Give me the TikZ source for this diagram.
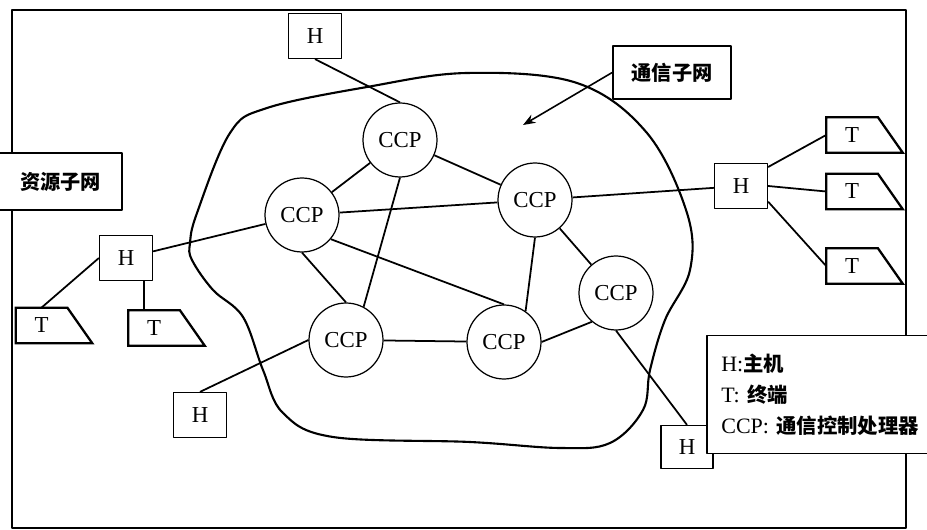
\documentclass[tikz,border=0pt]{standalone}
\usepackage{fontspec}
\setmainfont{Liberation Serif}
\newfontfamily\cjk{Noto Sans CJK SC}
\usetikzlibrary{arrows.meta}
\tikzset{net/.style={line join=round,>=Stealth,x=0.02cm,y=-0.02cm,font=\fontsize{13}{15}\selectfont},
  ccp/.style={circle,draw,line width=0.7pt,fill=white,minimum size=1.48cm,inner sep=0pt},
  hostbox/.style={draw,line width=0.7pt,fill=white,minimum width=1.06cm,minimum height=0.9cm,inner sep=0pt},
  termbox/.style={minimum width=1.02cm,minimum height=0.7cm,inner sep=0pt},
  link/.style={line width=1pt},
  tagbox/.style={draw,line width=0.9pt,fill=white,inner sep=0pt,font=\cjk\bfseries\fontsize{11.5}{13}\selectfont}}
\newcommand{\termT}[2]{\node[termbox](#1)at(#2){T};
  \draw[line width=1.3pt,line join=miter](#1.north west)--(#1.north east)--([xshift=0.5cm]#1.south east)--(#1.south west)--cycle;}
\newcommand{\legcjk}[1]{{\cjk\bfseries\fontsize{11.6}{13}\selectfont #1}}

\begin{document}
\begin{tikzpicture}[net]
  \useasboundingbox(0,0)rectangle(927,530);
  \draw[line width=0.9pt](12,10)rectangle(906,528);
  % communication subnet boundary
  \draw[line width=1.2pt]plot[smooth cycle,tension=0.6]coordinates{(230,133)(267,108)(367,87)(467,73)(577,83)(647,133)(687,213)
    (690,270)(665,320)(650,370)(643,410)(610,443)(560,448)(470,442)(333,437)(283,413)(263,370)(243,317)(213,290)(192,260)(190,243)(197,213)};
  % processors
  \node[ccp](c1)at(400,140){CCP};\node[ccp](c2)at(302,215){CCP};\node[ccp](c3)at(535,200){CCP};
  \node[ccp](c4)at(616,293){CCP};\node[ccp](c5)at(504,342){CCP};\node[ccp](c6)at(346,340){CCP};
  % hosts
  \node[hostbox](hT)at(315,36){H};\node[hostbox](hL)at(126,258){H};\node[hostbox](hR)at(741,186){H};
  \node[hostbox](hBL)at(200,415){H};\node[hostbox,minimum width=1.04cm,minimum height=0.86cm](hBR)at(687,447){H};
  % terminals
  \termT{tL1}{41.5,325.5}\termT{tL2}{154,328}
  \termT{tR1}{852,135}\termT{tR2}{852,191.5}\termT{tR3}{852,266}
  % links
  \draw[link](hT.south)--(c1.north);\draw[link](c1)--(c2);\draw[link](c1)--(c3);\draw[link](c1.south)--(c6.62);
  \draw[link](c2)--(c3);\draw[link](c2.south)--(c6.north);\draw[link](c2.-40)--(c5.north);
  \draw[link](c3)--(c4);\draw[link](c3.south)--(c5.55);\draw[link](c5.east)--(c4.230);\draw[link](c6)--(c5);
  \draw[link](c4.south)--(hBR.north);\draw[link](c6.west)--(hBL.north);\draw[link](hL)--(c2);\draw[link](c3)--(hR);
  \draw[link](hL.west)--(tL1.north);\draw[link]([xshift=0.36cm]hL.south)--([xshift=-0.2cm]tL2.north);
  \draw[link](hR.35)--(tR1.west);\draw[link](hR.east)--(tR2.west);\draw[link](hR.-30)--(tR3.west);
  % labels
  \node[tagbox,minimum width=2.36cm,minimum height=1.06cm](tagNet)at(672,72.5){通信子网};
  \coordinate(netPt)at(523,125);\draw[line width=0.9pt,->](tagNet.west)--(netPt);
  \node[tagbox,draw=none,minimum width=2.42cm,minimum height=1.1cm](tagRes)at(60.5,181.5){资源子网};
  \draw[line width=0.9pt](tagRes.north west)--(tagRes.north east)--(tagRes.south east)--(tagRes.south west);
  \node[anchor=west,fill=white,minimum height=2.34cm,text width=4.8cm,inner xsep=0.28cm,inner ysep=0pt,align=left,
    font=\fontsize{12.5}{17.6}\selectfont](legend)at(707,394.5){H:\legcjk{主机}\\T: \legcjk{终端}\\CCP: \legcjk{通信控制处理器}};
  \draw[line width=0.9pt](legend.north east)--(legend.north west)--(legend.south west)--(legend.south east);
\end{tikzpicture}
\end{document}
